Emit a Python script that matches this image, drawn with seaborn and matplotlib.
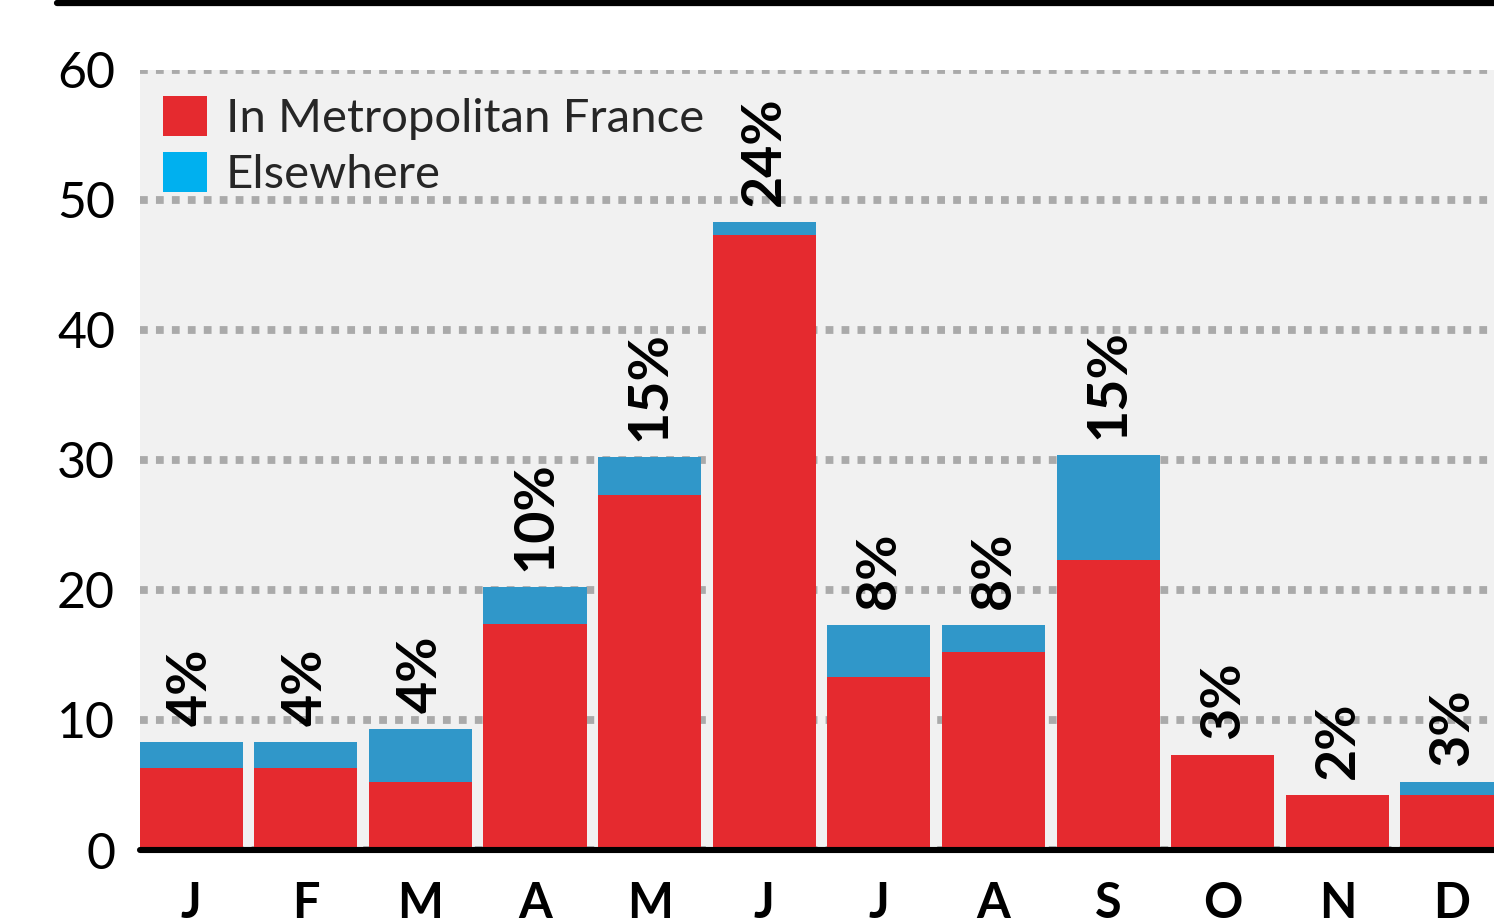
import matplotlib
matplotlib.use("Agg")
import matplotlib.pyplot as plt
from matplotlib.lines import Line2D
from matplotlib.patches import Patch
import seaborn as sns
import pandas as pd

months = ["Jan", "Feb", "Mar", "Apr", "May", "Jun", "Jul", "Aug", "Sep", "Oct", "Nov", "Dec"]
month_letters = ["J", "F", "M", "A", "M", "J", "J", "A", "S", "O", "N", "D"]
in_france = [6.3, 6.3, 5.2, 17.4, 27.3, 47.3, 13.3, 15.2, 22.3, 7.3, 4.2, 4.2]
elsewhere = [2.0, 2.0, 4.1, 2.8, 2.9, 1.0, 4.0, 2.1, 8.1, 0.0, 0.0, 1.0]
pct_labels = ["4%", "4%", "4%", "10%", "15%", "24%", "8%", "8%", "15%", "3%", "2%", "3%"]
yticks = [0, 10, 20, 30, 40, 50, 60]
legend_labels = ["In Metropolitan France", "Elsewhere"]

RED = "#e52a2f"
BLUE = "#3097c9"
LEG_BLUE = "#00b0ef"

df = pd.DataFrame({"month": months, "france": in_france, "else": elsewhere})
df["total"] = df["france"] + df["else"]

sns.set_theme(style="white")
plt.rcParams["font.family"] = ["Lato", "DejaVu Sans"]

W, H = 1494, 921
fig = plt.figure(figsize=(W / 100, H / 100), dpi=100)
ax_left, ax_right, ax_top, ax_bottom = 140, 1494, 70, 850
ax = fig.add_axes([ax_left / W, (H - ax_bottom) / H, (ax_right - ax_left) / W, (ax_bottom - ax_top) / H])
ax.set_facecolor("#f1f1f1")

sns.barplot(data=df, x="month", y="total", order=months, color=BLUE, width=0.9,
            saturation=1, linewidth=0, ax=ax, zorder=2)
sns.barplot(data=df, x="month", y="france", order=months, color=RED, width=0.9,
            saturation=1, linewidth=0, ax=ax, zorder=3)

for i, (t, lab) in enumerate(zip(df["total"], pct_labels)):
    ax.text(i, t + 1.25, lab, rotation=90, ha="center", va="bottom",
            fontsize=40, fontweight="bold", color="black", zorder=5)

ax.set_xlim(-0.445, 11.366)
ax.set_ylim(0, 60)
ax.set_yticks(yticks)
ax.set_yticklabels([str(v) for v in yticks], fontsize=36, color="black")
ax.set_xticks(range(len(months)))
ax.set_xticklabels(month_letters, fontsize=35, fontweight="bold", color="black")
ax.tick_params(axis="y", length=0, pad=18)
ax.tick_params(axis="x", length=0, pad=22)
ax.set_xlabel("")
ax.set_ylabel("")
for s in ax.spines.values():
    s.set_visible(False)

ax.set_axisbelow(True)
ax.yaxis.grid(True, color="#aaaaaa", linestyle=(0, (1, 1.05)), linewidth=5.6, zorder=0)
ax.xaxis.grid(False)
ax.axhline(0, color="black", linewidth=4.4, clip_on=False, zorder=6)

handles = [Patch(facecolor=RED, edgecolor="none"), Patch(facecolor=LEG_BLUE, edgecolor="none")]
leg = ax.legend(handles, legend_labels, loc="upper left",
                bbox_to_anchor=(23 / (ax_right - ax_left), 1 - 26 / (ax_bottom - ax_top)),
                frameon=False, fontsize=34, handlelength=0.93, handleheight=0.93,
                handletextpad=0.4, labelspacing=0.25, borderpad=0, borderaxespad=0)

fig.add_artist(Line2D([57 / W, 1.0], [1 - 3 / H, 1 - 3 / H], color="black", linewidth=4.5))

fig.savefig("out.png", dpi=100)
